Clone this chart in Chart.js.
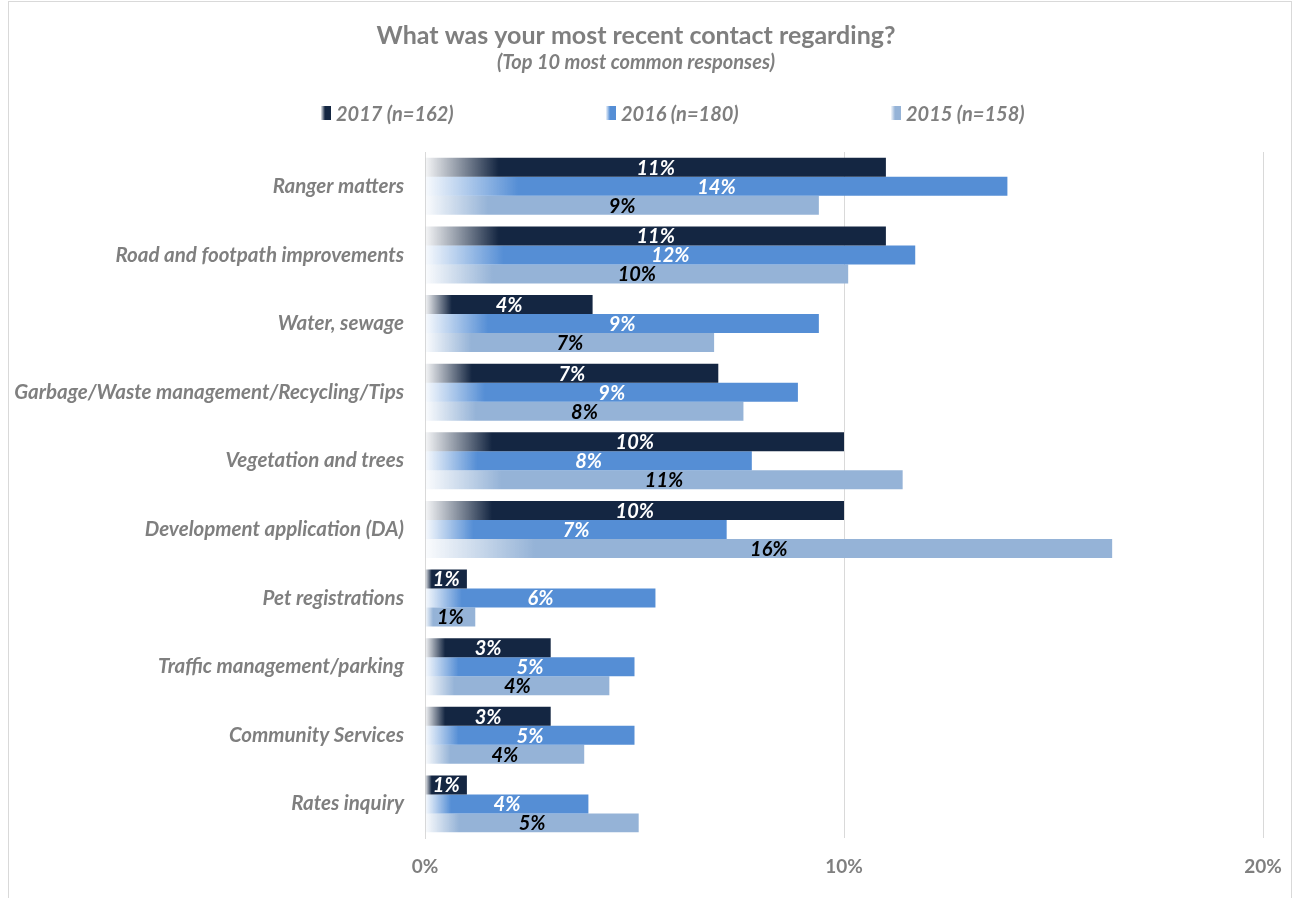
<!DOCTYPE html>
<html>
<head>
    <title>Most recent contact</title>
    <script src="https://cdn.jsdelivr.net/npm/chart.js@4/dist/chart.umd.min.js"></script>
    <style>
        body { margin: 0; background: #fff; font-family: Lato, sans-serif; }
        .frame { position: absolute; left: 8px; top: 1px; width: 1282px; height: 896px; border: 1px solid #d9d9d9; }
        #legend { position: absolute; left: 312px; top: 99px; display: flex; }
        #legend .item { width: 285px; display: flex; align-items: center; color: #7f7f7f;
                        font: italic bold 20px Lato, sans-serif; }
        #legend .box { width: 10px; height: 14px; margin-right: 5px; }
    </style>
</head>
<body>
    <div class="frame">
        <canvas id="contactChart" width="1282" height="896"></canvas>
        <div id="legend"></div>
    </div>

    <script>
        /* data */
        const categories = [
            'Ranger matters',
            'Road and footpath improvements',
            'Water, sewage',
            'Garbage/Waste management/Recycling/Tips',
            'Vegetation and trees',
            'Development application (DA)',
            'Pet registrations',
            'Traffic management/parking',
            'Community Services',
            'Rates inquiry'
        ];
        const seriesNames = ['2017 (n=162)', '2016 (n=180)', '2015 (n=158)'];
        const values2017 = [11.0, 11.0, 4.0, 7.0, 10.0, 10.0, 1.0, 3.0, 3.0, 1.0];
        const values2016 = [13.9, 11.7, 9.4, 8.9, 7.8, 7.2, 5.5, 5.0, 5.0, 3.9];
        const values2015 = [9.4, 10.1, 6.9, 7.6, 11.4, 16.4, 1.2, 4.4, 3.8, 5.1];
        const xTicks = [0, 10, 20];

        const seriesRgb = ['20, 38, 66', '85, 142, 213', '149, 179, 215'];
        const labelColors = ['#ffffff', '#ffffff', '#000000'];
        const grey = '#7f7f7f';

        // white-to-colour fade over the first part of each bar
        function fadeFill(rgb) {
            return function(ctx) {
                const chart = ctx.chart;
                if (ctx.type !== 'data' || !chart.chartArea || !chart.scales.x) return 'rgb(' + rgb + ')';
                const sx = chart.scales.x;
                const x0 = sx.getPixelForValue(0);
                const x1 = sx.getPixelForValue(ctx.raw);
                const g = chart.ctx.createLinearGradient(x0, 0, x0 + Math.max(1, (x1 - x0) * 0.16), 0);
                g.addColorStop(0, 'rgba(' + rgb + ',0.04)');
                g.addColorStop(1, 'rgb(' + rgb + ')');
                return g;
            };
        }

        const barLabels = {
            id: 'barLabels',
            afterDatasetsDraw(chart) {
                const ctx = chart.ctx;
                ctx.save();
                ctx.font = 'italic bold 20px Lato, sans-serif';
                ctx.textAlign = 'center';
                ctx.textBaseline = 'middle';
                chart.data.datasets.forEach(function(ds, i) {
                    const meta = chart.getDatasetMeta(i);
                    ctx.fillStyle = labelColors[i];
                    meta.data.forEach(function(bar, j) {
                        ctx.fillText(Math.round(ds.data[j]) + '%', (bar.x + bar.base) / 2, bar.y + 1);
                    });
                });
                ctx.restore();
            }
        };

        const allValues = [values2017, values2016, values2015];

        const chart = new Chart(document.getElementById('contactChart'), {
            type: 'bar',
            data: {
                labels: categories,
                datasets: allValues.map(function(vals, i) {
                    return {
                        label: seriesNames[i],
                        data: vals,
                        backgroundColor: fadeFill(seriesRgb[i]),
                        borderWidth: 0,
                        categoryPercentage: 0.83,
                        barPercentage: 1.0
                    };
                })
            },
            options: {
                indexAxis: 'y',
                responsive: false,
                animation: false,
                layout: { padding: { left: 0, right: 28, top: 0, bottom: 20 } },
                plugins: {
                    legend: { display: false },
                    tooltip: { enabled: false },
                    title: {
                        display: true,
                        text: 'What was your most recent contact regarding?',
                        color: grey,
                        font: { family: 'Lato', size: 25, weight: 'bold' },
                        padding: { top: 19, bottom: 0 }
                    },
                    subtitle: {
                        display: true,
                        text: '(Top 10 most common responses)',
                        color: grey,
                        font: { family: 'Lato', size: 20, weight: 'bold', style: 'italic' },
                        padding: { top: 0, bottom: 77 }
                    }
                },
                scales: {
                    x: {
                        min: 0,
                        max: 20,
                        afterBuildTicks(axis) {
                            axis.ticks = xTicks.map(function(v) { return { value: v }; });
                        },
                        ticks: {
                            color: grey,
                            padding: 0,
                            font: { family: 'Lato', size: 19, weight: 'bold' },
                            callback: function(v) { return v + '%'; }
                        },
                        grid: { color: '#d9d9d9', drawTicks: true, tickLength: 17, tickColor: 'rgba(0,0,0,0)' },
                        border: { display: false }
                    },
                    y: {
                        afterFit(axis) { axis.width = 416; },
                        ticks: {
                            color: grey,
                            padding: 21,
                            font: { family: 'Lato', size: 20.5, weight: 'bold', style: 'italic' }
                        },
                        grid: { display: false, drawTicks: false },
                        border: { display: true, color: '#d9d9d9' }
                    }
                }
            },
            plugins: [barLabels]
        });

        // html legend built from the datasets
        const legendEl = document.getElementById('legend');
        chart.data.datasets.forEach(function(ds, i) {
            const item = document.createElement('div');
            item.className = 'item';
            const box = document.createElement('span');
            box.className = 'box';
            box.style.background = 'linear-gradient(to right, rgba(' + seriesRgb[i] + ',0.1), rgb(' + seriesRgb[i] + ') 40%)';
            const txt = document.createElement('span');
            txt.textContent = ds.label;
            item.appendChild(box);
            item.appendChild(txt);
            legendEl.appendChild(item);
        });
    </script>
</body>
</html>
